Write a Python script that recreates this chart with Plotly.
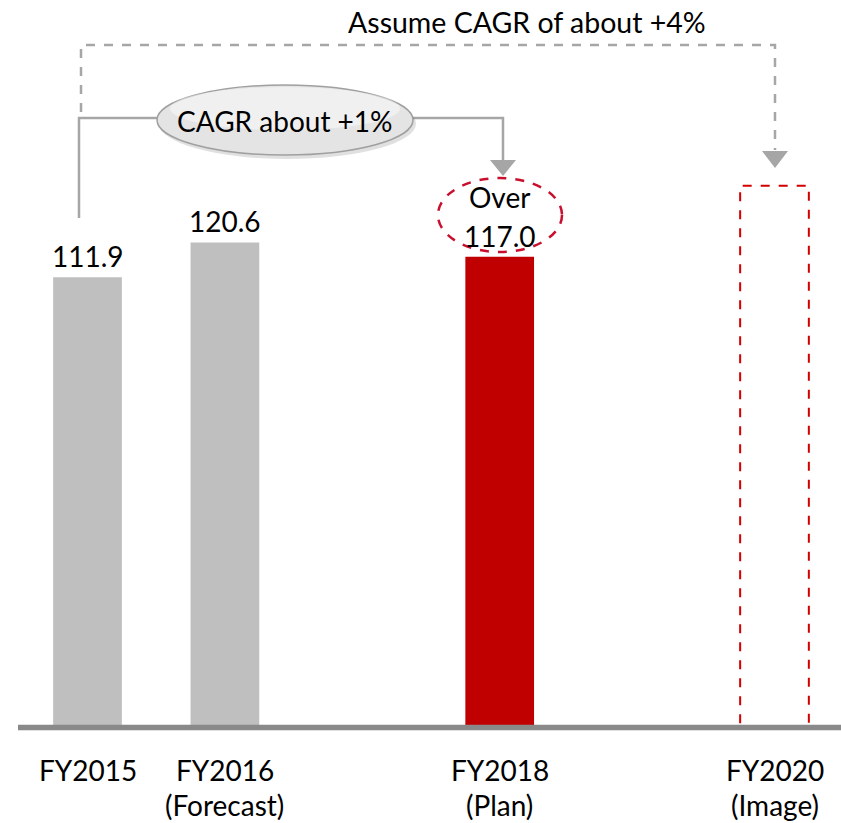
import plotly.graph_objects as go

# ---- data ----
years = [2015, 2016, 2018, 2020]
values = [111.9, 120.6, 117.0, 134.7]
line1 = ["FY2015", "FY2016", "FY2018", "FY2020"]
line2 = ["", "(Forecast)", "(Plan)", "(Image)"]
value_labels = ["111.9", "120.6", "117.0", ""]
bar_colors = ["#bfbfbf", "#bfbfbf", "#c00000", "rgba(0,0,0,0)"]

W, H = 841, 823
L, PLOT_BOTTOM, BASE_PX = 18, 731, 726
PPX = 137.4
PPY = 4.01
x_lo = 2015 - (87.5 - L) / PPX
x_hi = 2015 + (W - 87.5) / PPX
y_lo = -(PLOT_BOTTOM - BASE_PX) / PPY
y_hi = BASE_PX / PPY


def X(px):
    return x_lo + (px - L) / PPX


def Y(py):
    return (BASE_PX - py) / PPY


FONT = "Lato, 'Open Sans', sans-serif"
GRAY = "#a6a6a6"
FS = 28

fig = go.Figure()
fig.add_trace(go.Bar(x=years, y=values, width=0.5, marker=dict(color=bar_colors, line=dict(width=0)),
                     hoverinfo="skip"))

shapes = []
# dashed outline bar (FY2020)
shapes.append(dict(type="rect", xref="x", yref="y", x0=years[3] - 0.25, x1=years[3] + 0.25,
                   y0=0, y1=values[3], line=dict(color="#d40000", width=2, dash="dash"),
                   fillcolor="rgba(0,0,0,0)"))
# baseline
shapes.append(dict(type="line", xref="paper", yref="y", x0=0, x1=1, y0=Y(727.5), y1=Y(727.5),
                   line=dict(color="#898989", width=5.5)))
# dashed long connector
shapes.append(dict(type="path", xref="x", yref="y",
                   path=f"M {X(81)} {Y(112)} L {X(81)} {Y(45)} L {X(775)} {Y(45)} L {X(775)} {Y(150)}",
                   line=dict(color=GRAY, width=2.5, dash="dash")))
shapes.append(dict(type="path", xref="x", yref="y",
                   path=f"M {X(762)} {Y(151)} L {X(788)} {Y(151)} L {X(775)} {Y(168)} Z",
                   fillcolor=GRAY, line=dict(color=GRAY, width=0)))
# solid connector
shapes.append(dict(type="path", xref="x", yref="y",
                   path=f"M {X(79)} {Y(218)} L {X(79)} {Y(118)} L {X(503)} {Y(118)} L {X(503)} {Y(161)}",
                   line=dict(color=GRAY, width=2.5)))
shapes.append(dict(type="path", xref="x", yref="y",
                   path=f"M {X(490)} {Y(160)} L {X(516)} {Y(160)} L {X(503)} {Y(176)} Z",
                   fillcolor=GRAY, line=dict(color=GRAY, width=0)))
# CAGR ellipse (shadow + body)
shapes.append(dict(type="circle", xref="x", yref="y", x0=X(159), x1=X(416), y0=Y(88), y1=Y(159),
                   fillcolor="rgba(0,0,0,0.12)", line=dict(width=0)))
shapes.append(dict(type="circle", xref="x", yref="y", x0=X(157), x1=X(413), y0=Y(85), y1=Y(155),
                   fillcolor="#e4e4e4", line=dict(color="#a0a0a0", width=1.5)))
shapes.append(dict(type="circle", xref="x", yref="y", x0=X(170), x1=X(400), y0=Y(87), y1=Y(130),
                   fillcolor="rgba(255,255,255,0.45)", line=dict(width=0)))
# red dashed ellipse
shapes.append(dict(type="circle", xref="x", yref="y", x0=X(438), x1=X(562), y0=Y(178), y1=Y(252),
                   line=dict(color="#c8102e", width=2.5, dash="dash"), fillcolor="rgba(0,0,0,0)"))

ann = []
for yr, v, t in zip(years, values, value_labels):
    if t:
        ann.append(dict(x=yr, y=v, xref="x", yref="y", text=t, showarrow=False,
                        yanchor="middle", yshift=21, font=dict(size=FS, color="#000", family=FONT)))
ann.append(dict(x=years[2], y=values[2], xref="x", yref="y", text="Over", showarrow=False,
                yanchor="middle", yshift=60, font=dict(size=FS, color="#000", family=FONT)))
for yr, a, b in zip(years, line1, line2):
    ann.append(dict(x=yr, y=0, xref="x", yref="paper", text=a, showarrow=False,
                    yanchor="middle", yshift=-39, font=dict(size=FS, color="#000", family=FONT)))
    if b:
        ann.append(dict(x=yr, y=0, xref="x", yref="paper", text=b, showarrow=False,
                        yanchor="middle", yshift=-74, font=dict(size=FS, color="#000", family=FONT)))
ann.append(dict(x=X(527), y=Y(22), xref="x", yref="y", text="Assume CAGR of about +4%", showarrow=False,
                yanchor="middle", font=dict(size=28.5, color="#000", family=FONT)))
ann.append(dict(x=X(285), y=Y(121), xref="x", yref="y", text="CAGR about +1%", showarrow=False,
                yanchor="middle", font=dict(size=28, color="#000", family=FONT)))

fig.update_layout(
    width=W, height=H, margin=dict(l=L, r=0, t=0, b=H - PLOT_BOTTOM),
    plot_bgcolor="white", paper_bgcolor="white", showlegend=False,
    xaxis=dict(range=[x_lo, x_hi], showgrid=False, zeroline=False, showticklabels=False, ticks="",
               showline=False, fixedrange=True),
    yaxis=dict(range=[y_lo, y_hi], showgrid=False, zeroline=False, showticklabels=False, ticks="",
               showline=False, fixedrange=True),
    shapes=shapes, annotations=ann,
)
fig.write_html("out.html")
